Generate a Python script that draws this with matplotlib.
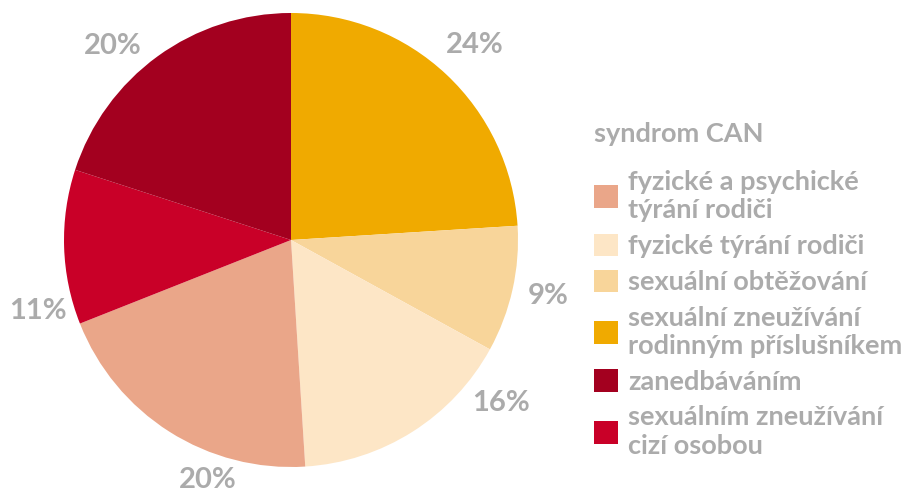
import matplotlib
matplotlib.use("Agg")
import matplotlib.pyplot as plt
import numpy as np

plt.rcParams['font.family'] = ['Lato', 'DejaVu Sans']

# Data (legend order)
categories = [
    "fyzické a psychické\ntýrání rodiči",
    "fyzické týrání rodiči",
    "sexuální obtěžování",
    "sexuální zneužívání\nrodinným příslušníkem",
    "zanedbáváním",
    "sexuálním zneužívání\ncizí osobou",
]
values = [20, 16, 9, 24, 20, 11]
colors = ["#EAA689", "#FDE6C6", "#F8D59A", "#F0AA00", "#A3001F", "#C90028"]
legend_title = "syndrom CAN"

# order of slices clockwise from 12 o'clock
pie_order = [3, 2, 1, 0, 5, 4]
# label placement within each slice (pie order): fraction along slice, radius
label_frac = [0.50, 0.49, 0.156, 0.317, 0.15, 0.41]
label_rad = [1.18, 1.16, 1.17, 1.12, 1.16, 1.16]

TEXT = "#ABABAB"

fig = plt.figure(figsize=(9.09, 4.96), dpi=100)
ax = fig.add_axes([64/909, 29/496, 454/909, 454/496])

pie_vals = [values[i] for i in pie_order]
wedges, _ = ax.pie(
    pie_vals,
    colors=[colors[i] for i in pie_order],
    startangle=90, counterclock=False,
    wedgeprops=dict(linewidth=0),
)
total = sum(pie_vals)
for w, v, f, r in zip(wedges, pie_vals, label_frac, label_rad):
    ang = np.deg2rad(w.theta2 - f * (w.theta2 - w.theta1))
    ax.text(r * np.cos(ang), r * np.sin(ang), f"{100 * v / total:.0f}%",
            ha='center', va='center', color=TEXT, fontsize=21, fontweight='bold')
ax.set_xlim(-1, 1)
ax.set_ylim(-1, 1)
ax.set_aspect('equal')

handles = [None] * len(values)
for w, i in zip(wedges, pie_order):
    handles[i] = w

leg = fig.legend(
    handles, categories, title=legend_title,
    loc='upper left', bbox_to_anchor=(594/909, 1 - 122/496),
    frameon=False,
    handlelength=0.9, handleheight=0.9, handletextpad=0.37,
    labelspacing=0.42, borderaxespad=0, borderpad=0,
    prop=dict(size=19.5, weight='bold'),
    title_fontproperties=dict(size=19.5, weight='bold'),
)
leg._legend_box.align = "left"
leg._legend_box.sep = 17
leg.get_title().set_color(TEXT)
for t in leg.get_texts():
    t.set_color(TEXT)
    t.set_linespacing(1.23)

fig.savefig("out.png", dpi=100)
